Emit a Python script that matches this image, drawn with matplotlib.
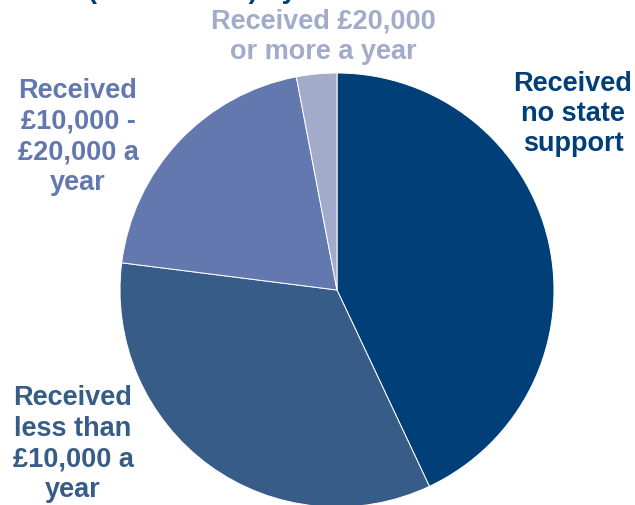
import matplotlib
matplotlib.use("Agg")
import matplotlib.pyplot as plt

plt.rcParams['font.family'] = ['Liberation Sans', 'DejaVu Sans']

# data (shares of households)
labels = ["Received\nno state\nsupport",
          "Received\nless than\n£10,000 a\nyear",
          "Received\n£10,000 -\n£20,000 a\nyear",
          "Received £20,000\nor more a year"]
shares = [43, 34, 20, 3]
colors = ["#003f77", "#365c87", "#6478b0", "#a3abcb"]
# label centres in pixels (x, y from top)
label_pos = [(573, 114), (73, 444), (78, 137), (323, 37)]

W, H = 635, 505
fig = plt.figure(figsize=(W / 100, H / 100), dpi=100)
ax = fig.add_axes([0, 0, 1, 1])

ax.pie(shares, colors=colors, startangle=90, counterclock=False,
       center=(337, H - 290), radius=217,
       wedgeprops=dict(edgecolor="white", linewidth=0.7))
ax.set_xlim(0, W)
ax.set_ylim(0, H)
ax.set_aspect("equal")
ax.axis("off")

for lab, (x, y), c in zip(labels, label_pos, colors):
    ax.text(x, H - y, lab, ha="center", va="center", color=c,
            fontsize=19.5, fontweight="bold", linespacing=1.22)

# title line, mostly above the top edge (only descenders show)
ax.text(88, H + 2, "(households) by income", ha="left", va="baseline",
        color="#003f77", fontsize=19.5, fontweight="bold", clip_on=False)

fig.savefig("out.png", dpi=100)
